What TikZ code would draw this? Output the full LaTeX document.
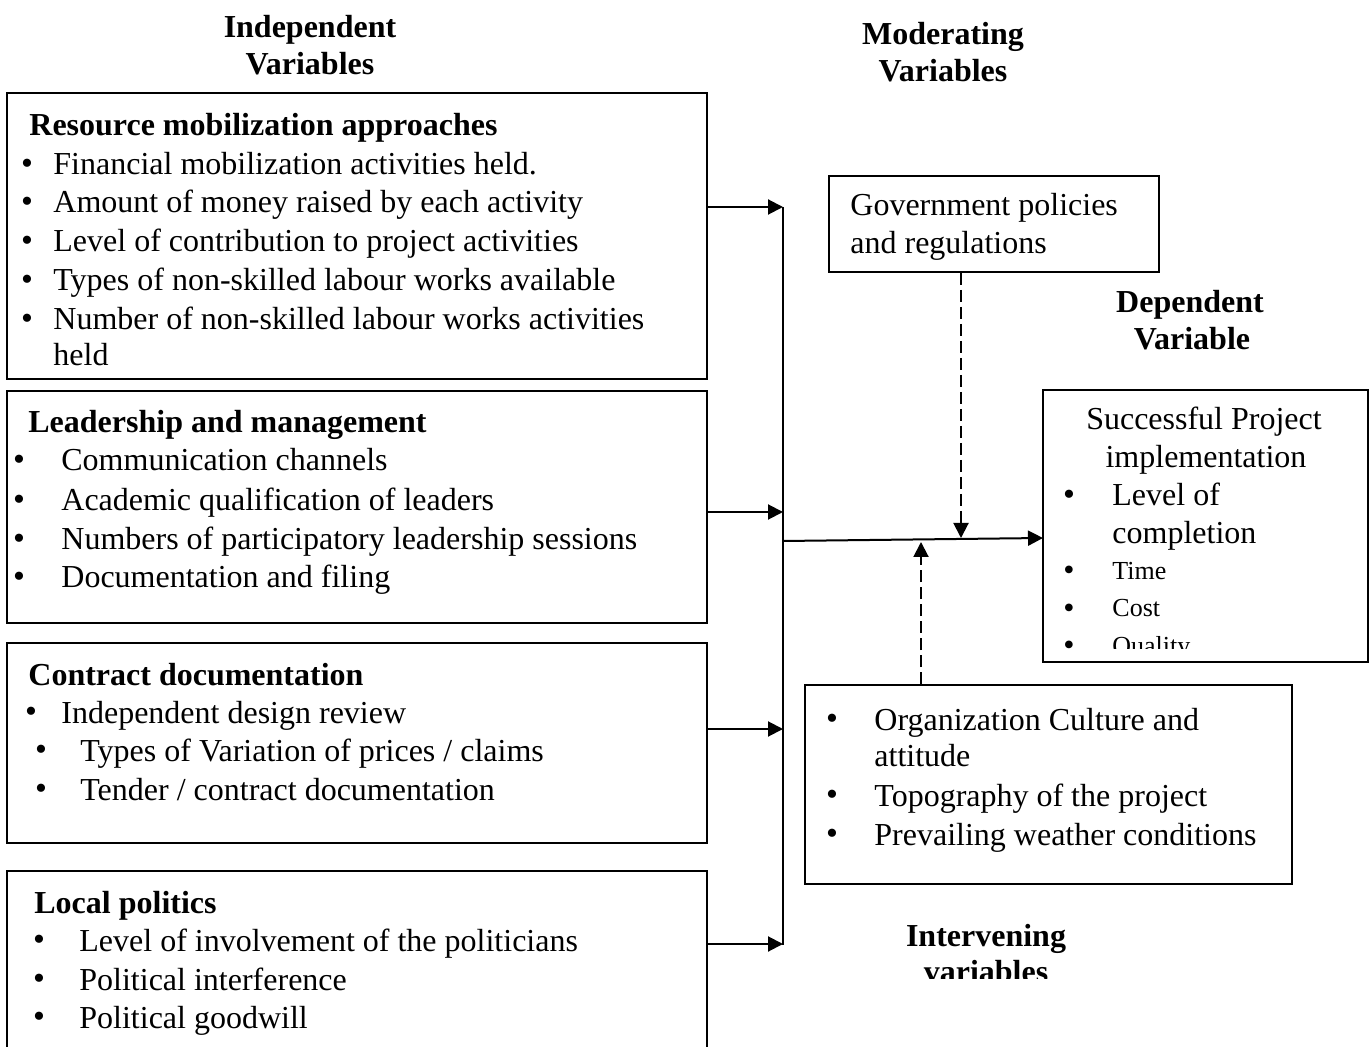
\documentclass[tikz,border=0pt]{standalone}
\usepackage{fontspec}
\setmainfont{Liberation Serif}
\usetikzlibrary{arrows.meta,fit}
\begin{document}
\begin{tikzpicture}[x=0.5pt,y=-0.5pt,
  box/.style={draw,line width=1pt,inner sep=0pt},
  txt/.style={anchor=base west,inner sep=0pt,yshift=-1.5pt,font=\fontsize{16}{19}\selectfont},
  hd/.style={anchor=base west,inner sep=0pt,yshift=-1.5pt,font=\fontsize{16}{19}\selectfont\bfseries},
  ttl/.style={anchor=base,inner sep=0pt,yshift=-1.5pt,font=\fontsize{16}{19}\selectfont\bfseries},
  ctxt/.style={anchor=base,inner sep=0pt,yshift=-1.5pt,font=\fontsize{16}{19}\selectfont},
  bul/.style={anchor=base,inner sep=0pt,yshift=-1.45pt,font=\fontsize{17}{19}\selectfont},
  smtxt/.style={anchor=base west,inner sep=0pt,yshift=-1.5pt,font=\fontsize{13}{15}\selectfont},
  smbul/.style={anchor=base,inner sep=0pt,yshift=-2pt,font=\fontsize{16}{18}\selectfont},
  ln/.style={line width=1pt},
  arr/.style={line width=1pt,-{Triangle[length=7.5pt,width=7.5pt]}},
  dasharr/.style={line width=1pt,dash pattern=on 6pt off 2.5pt,-{Triangle[length=7.5pt,width=7.5pt]}},
]
\useasboundingbox (0,0) rectangle (1370,1047);

% titles
\node[ttl] (indA) at (310,35) {Independent};
\node[ttl] (indB) at (310,72) {Variables};
\node[ttl] (modA) at (943,42) {Moderating};
\node[ttl] (modB) at (943,79) {Variables};
\node[ttl] (depA) at (1190,310) {Dependent};
\node[ttl] (depB) at (1192,347) {Variable};
\node[ttl] (intA) at (986,943) {Intervening};
\begin{scope}
  \clip (850,950) rectangle (1120,978);
  \node[ttl] (intB) at (986,979) {variables};
\end{scope}

% boxes
\node[box,fit={(7,93) (707,379)}] (b1) {};
\node[box,fit={(7,391) (707,623)}] (b2) {};
\node[box,fit={(7,643) (707,843)}] (b3) {};
\node[box,fit={(7,871) (707,1060)}] (b4) {};
\node[box,fit={(829,176) (1159,272)}] (gov) {};
\node[box,fit={(1043,390) (1368,662)}] (dep) {};
\node[box,fit={(805,685) (1292,884)}] (int) {};

% box 1
\node[hd] (b1h) at (29,133) {Resource mobilization approaches};
\node[bul] (b1p1) at (27,172) {•};
\node[txt] (b1t1) at (53,172) {Financial mobilization activities held.};
\node[bul] (b1p2) at (27,210) {•};
\node[txt] (b1t2) at (53,210) {Amount of money raised by each activity};
\node[bul] (b1p3) at (27,249) {•};
\node[txt] (b1t3) at (53,249) {Level of contribution to project activities};
\node[bul] (b1p4) at (27,288) {•};
\node[txt] (b1t4) at (53,288) {Types of non-skilled labour works available};
\node[bul] (b1p5) at (27,327) {•};
\node[txt] (b1t5) at (53,327) {Number of non-skilled labour works activities};
\node[txt] (b1t6) at (53,363) {held};

% box 2
\node[hd] (b2h) at (28,430) {Leadership and management};
\node[bul] (b2p1) at (19,468) {•};
\node[txt] (b2t1) at (61,468) {Communication channels};
\node[bul] (b2p2) at (19,508) {•};
\node[txt] (b2t2) at (61,508) {Academic qualification of leaders};
\node[bul] (b2p3) at (19,547) {•};
\node[txt] (b2t3) at (61,547) {Numbers of participatory leadership sessions};
\node[bul] (b2p4) at (19,585) {•};
\node[txt] (b2t4) at (61,585) {Documentation and filing};

% box 3
\node[hd] (b3h) at (28,682) {Contract documentation};
\node[bul] (b3p1) at (31,720) {•};
\node[txt] (b3t1) at (61,720) {Independent design review};
\node[bul] (b3p2) at (41,758) {•};
\node[txt] (b3t2) at (80,758) {Types of Variation of prices / claims};
\node[bul] (b3p3) at (41,797) {•};
\node[txt] (b3t3) at (80,797) {Tender / contract documentation};

% box 4
\node[hd] (b4h) at (34,910) {Local politics};
\node[bul] (b4p1) at (39,948) {•};
\node[txt] (b4t1) at (79,948) {Level of involvement of the politicians};
\node[bul] (b4p2) at (39,987) {•};
\node[txt] (b4t2) at (79,987) {Political interference};
\node[bul] (b4p3) at (39,1025) {•};
\node[txt] (b4t3) at (79,1025) {Political goodwill};

% government box
\node[txt] (gt1) at (850,213) {Government policies};
\node[txt] (gt2) at (850,251) {and regulations};

% dependent box
\node[ctxt] (dt1) at (1204,427) {Successful Project};
\node[ctxt] (dt2) at (1206,465) {implementation};
\node[bul] (dp1) at (1069,503) {•};
\node[txt] (dl1) at (1112,503) {Level of};
\node[txt] (dl2) at (1112,541) {completion};
\begin{scope}
  \clip (1045,392) rectangle (1366,648);
  \node[smbul] (dp2) at (1069,577) {•};
  \node[smtxt] (ds1) at (1112,577) {Time};
  \node[smbul] (dp3) at (1069,614) {•};
  \node[smtxt] (ds2) at (1112,614) {Cost};
  \node[smbul] (dp4) at (1069,651) {•};
  \node[smtxt] (ds3) at (1112,651) {Quality};
\end{scope}

% intervening box
\node[bul] (ip1) at (832,727) {•};
\node[txt] (it1) at (874,727) {Organization Culture and};
\node[txt] (it2) at (874,763) {attitude};
\node[bul] (ip2) at (832,803) {•};
\node[txt] (it3) at (874,803) {Topography of the project};
\node[bul] (ip3) at (832,842) {•};
\node[txt] (it4) at (874,842) {Prevailing weather conditions};

% connectors
\coordinate (j1) at (783,207);
\coordinate (j2) at (783,512);
\coordinate (j3) at (783,729);
\coordinate (j4) at (783,944);
\coordinate (jb) at (783,945);
\draw[arr] (b1.east |- j1) -- (j1);
\draw[arr] (b2.east |- j2) -- (j2);
\draw[arr] (b3.east |- j3) -- (j3);
\draw[arr] (b4.east |- j4) -- (j4);
\draw[ln] (j1) -- (jb);
\coordinate (m0) at (783,541);
\coordinate (m1) at (1043,538);
\draw[arr] (m0) -- (m1);
\coordinate (gd) at (961,538);
\draw[dasharr] (gov.south -| gd) -- (gd);
\coordinate (iu) at (921,542);
\draw[dasharr] (int.north -| iu) -- (iu);
\end{tikzpicture}
\end{document}
